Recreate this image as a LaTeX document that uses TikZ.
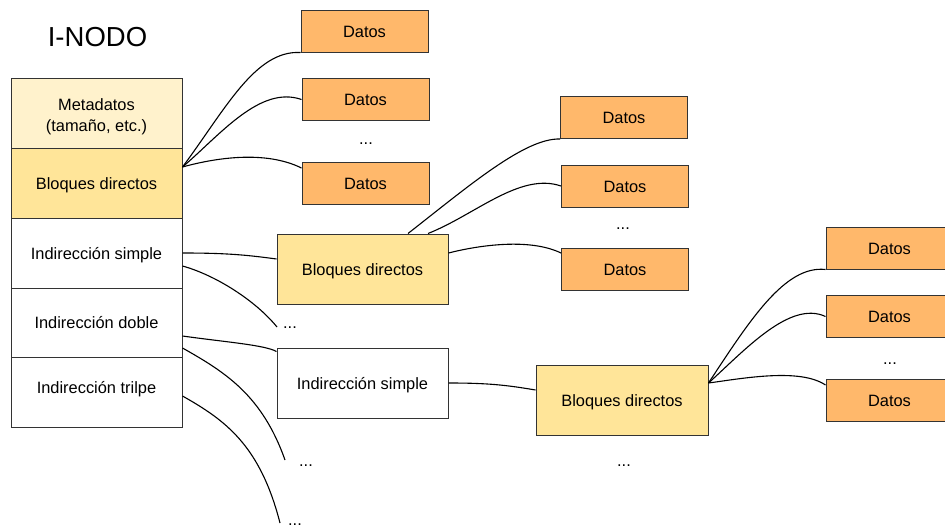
\documentclass[tikz,border=0pt]{standalone}
\usepackage{fontspec}
\setmainfont{Liberation Sans}
\definecolor{strokec}{HTML}{333333}
\definecolor{metac}{HTML}{FFF2CC}
\definecolor{bdc}{HTML}{FFE599}
\definecolor{datc}{HTML}{FFB86B}
\begin{document}
\begin{tikzpicture}[x=1pt,y=-1pt,
  box/.style={draw=strokec,line width=1pt,rectangle,inner sep=0pt,font=\fontsize{16.4}{21}\selectfont,text height=12pt,text depth=0pt},
  col/.style={box,minimum width=171pt,minimum height=70pt},
  dat/.style={box,fill=datc,minimum width=127pt,minimum height=42pt},
  wire/.style={line width=1.1pt,black},
  dotsn/.style={font=\fontsize{16.4}{21}\selectfont,inner sep=0pt,anchor=base}]
\useasboundingbox (0,0) rectangle (945,530);
\clip (0,0) rectangle (945,530);

% title
\node[font=\fontsize{27.5}{30}\selectfont,anchor=base,inner sep=0pt] (title) at (97.5,46.5) {I-NODO};

% i-node column
\node[col,fill=metac,label={[font=\fontsize{16.4}{21}\selectfont,align=center,yshift=-3.4pt,inner sep=0pt]center:Metadatos\\(tamaño, etc.)}] (meta) at (96.5,113) {};
\node[col,fill=bdc] (bd) at (96.5,183) {Bloques directos};
\node[col,fill=white] (is) at (96.5,253) {Indirección simple};
\node[col,fill=white,minimum height=69pt] (id) at (96.5,322.5) {Indirección doble};
\node[col,fill=white,text depth=9pt] (it) at (96.5,392) {Indirección trilpe};

% data blocks
\node[dat] (d1) at (364.5,31) {Datos};
\node[dat] (d2) at (365.5,99.5) {Datos};
\node[dat] (d3) at (365.5,183) {Datos};
\node[dat] (d4) at (624,117.5) {Datos};
\node[dat] (d5) at (625,186) {Datos};
\node[dat] (d6) at (625,269) {Datos};
\node[dat] (d7) at (889.5,248) {Datos};
\node[dat] (d8) at (889.5,316.5) {Datos};
\node[dat] (d9) at (889.5,400) {Datos};

% second / third level
\node[col,fill=bdc] (bd2) at (362.5,269) {Bloques directos};
\node[col,fill=white] (is2) at (362.5,383) {Indirección simple};
\node[col,fill=bdc,minimum width=172pt] (bd3) at (622,400) {Bloques directos};

% ellipses
\node[dotsn] (p1) at (366,144) {...};
\node[dotsn] (p2) at (623,229) {...};
\node[dotsn] (p3) at (290,328) {...};
\node[dotsn] (p4) at (306,466) {...};
\node[dotsn] (p5) at (624,466) {...};
\node[dotsn] (p6) at (890,364) {...};
\node[dotsn] (p7) at (295,525.5) {...};

\coordinate (e1) at (277,327);
\coordinate (e2) at (285,460);
\coordinate (e3) at (280,523);

% connectors
\draw[wire] ([yshift=16pt]bd.east) .. controls (225,110) and (255,50) .. (d1.south west);
\draw[wire] ([yshift=16pt]bd.east) .. controls (220,135) and (260,85) .. (d2.west);
\draw[wire] ([yshift=16pt]bd.east) .. controls (215,158) and (265,150) .. ([yshift=15pt]d3.west);
\draw[wire] (is.east) .. controls (227,253) and (247,255) .. ([yshift=10pt]bd2.west);
\draw[wire] ([yshift=-13pt]is.east) .. controls (215,275) and (255,300) .. (e1);
\draw[wire] ([yshift=-13.5pt]id.east) .. controls (225,342) and (265,345) .. ([yshift=-4pt]is2.north west);
\draw[wire] ([yshift=-25.5pt]id.east) .. controls (225,372) and (262,395) .. (e2);
\draw[wire] ([yshift=-4pt]it.east) .. controls (225,420) and (260,445) .. (e3);
\draw[wire] ([xshift=45.5pt]bd2.north) .. controls (470,185) and (525,138) .. (d4.south west);
\draw[wire] ([xshift=65.5pt]bd2.north) .. controls (475,215) and (520,172) .. (d5.west);
\draw[wire] ([yshift=16pt]bd2.east) .. controls (480,245) and (530,238) .. ([yshift=16pt]d6.west);
\draw[wire] (is2.east) .. controls (488,383) and (506,385) .. ([yshift=10pt]bd3.west);
\draw[wire] ([yshift=17pt]bd3.east) .. controls (750,320) and (785,265) .. (d7.south west);
\draw[wire] ([yshift=17pt]bd3.east) .. controls (745,350) and (790,300) .. (d8.west);
\draw[wire] ([yshift=17pt]bd3.east) .. controls (745,378) and (800,368) .. ([yshift=15pt]d9.west);
\end{tikzpicture}
\end{document}
